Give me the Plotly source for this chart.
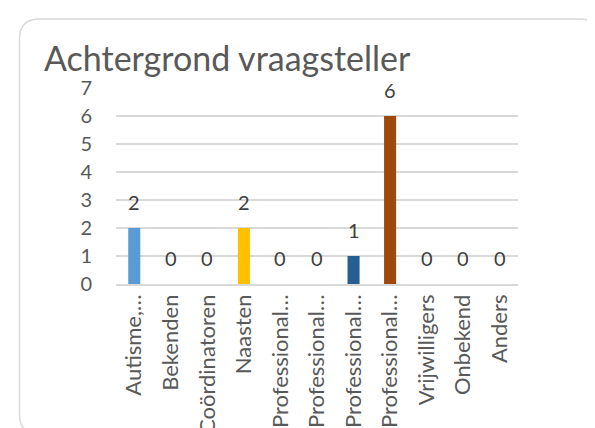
import plotly.graph_objects as go

categories = ["Autisme,…", "Bekenden", "Coördinatoren", "Naasten", "Professional…",
              "Professional…", "Professional…", "Professional…", "Vrijwilligers",
              "Onbekend", "Anders"]
cat_ids = [f"c{i}" for i in range(len(categories))]
values = [2, 0, 0, 2, 0, 0, 1, 6, 0, 0, 0]
colors = ["#5B9BD5", "#ED7D31", "#A5A5A5", "#FFC000", "#4472C4", "#70AD47",
          "#255E91", "#9E480E", "#636363", "#997300", "#264478"]
title_text = "Achtergrond vraagsteller"

W, H = 595, 428
L, R, T, B = 108, 85, 80, 152
FONT = "Lato, 'Open Sans', sans-serif"
pw, ph = W - L - R, H - T - B

def px(x):
    return (x - L) / pw

def py(y):
    return (H - B - y) / ph

fig = go.Figure()
fig.add_trace(go.Bar(x=cat_ids, y=values, marker=dict(color=colors, line=dict(width=0)),
                     showlegend=False, hoverinfo="skip"))

for c, v in zip(cat_ids, values):
    fig.add_annotation(x=c, y=v, xref="x", yref="y", text=str(v), showarrow=False,
                       yanchor="bottom", yshift=12,
                       font=dict(family=FONT, size=20, color="#404040"))

# rounded frame
x0, x1, y0, y1, r = 11.5, 591, 11, 426.5, 20
path = (f"M {px(x0 + r)},{py(y0)} L {px(x1 - r)},{py(y0)} "
        f"Q {px(x1)},{py(y0)} {px(x1)},{py(y0 + r)} "
        f"L {px(x1)},{py(y1 - r)} Q {px(x1)},{py(y1)} {px(x1 - r)},{py(y1)} "
        f"L {px(x0 + r)},{py(y1)} Q {px(x0)},{py(y1)} {px(x0)},{py(y1 - r)} "
        f"L {px(x0)},{py(y0 + r)} Q {px(x0)},{py(y0)} {px(x0 + r)},{py(y0)} Z")
fig.add_shape(type="path", path=path, xref="paper", yref="paper",
              line=dict(color="#D9D9D9", width=1.5), layer="below")

fig.add_annotation(text=title_text, xref="paper", yref="paper",
                   x=px(34), y=py(64), xanchor="left", yanchor="bottom", yshift=-8,
                   showarrow=False, font=dict(family=FONT, size=34, color="#595959"))

fig.update_layout(
    width=W, height=H,
    margin=dict(l=L, r=R, t=T, b=B, autoexpand=False),
    paper_bgcolor="white", plot_bgcolor="white",
    bargap=0.67,
    font=dict(family=FONT, color="#595959"),
    xaxis=dict(type="category", tickmode="array", tickvals=cat_ids, ticktext=categories,
               tickangle=-90, tickfont=dict(size=22, color="#595959"),
               showgrid=False, showline=True, linecolor="#D9D9D9", linewidth=1.5,
               ticks="", zeroline=False, automargin=False),
    yaxis=dict(range=[0, 7], dtick=1, tickfont=dict(size=20, color="#595959"),
               showgrid=True, gridcolor="#D9D9D9", gridwidth=1.5, zeroline=False,
               showline=False, ticks="", ticklabelstandoff=23, automargin=False),
)

fig.write_html("out.html")
